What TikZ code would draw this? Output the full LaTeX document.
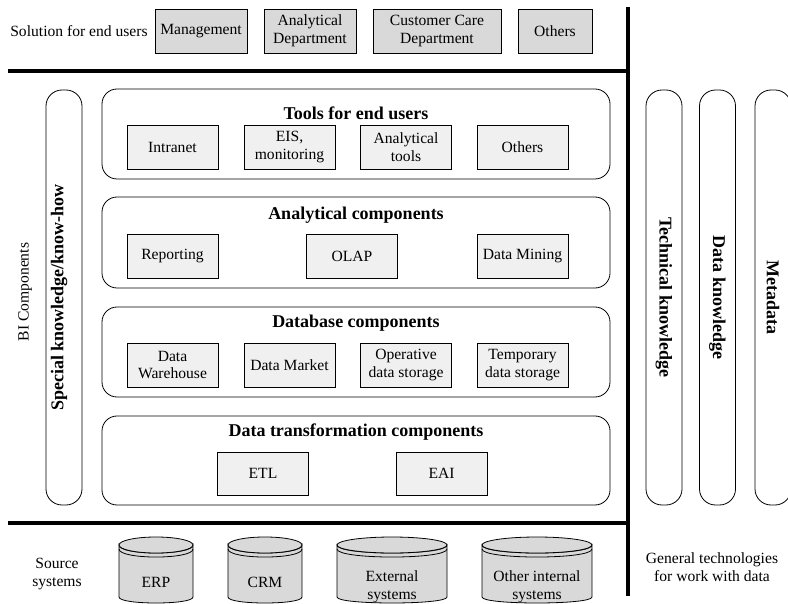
\documentclass[tikz,border=0pt]{standalone}
\usepackage{fontspec}
\setmainfont{Liberation Serif}
\begin{document}
\begin{tikzpicture}[x=1pt,y=-1pt,line width=0.8pt,
  every node/.style={font=\fontsize{15.6}{17.5}\selectfont, align=center, inner sep=2pt},
  topbox/.style={rectangle, draw, fill=gray!30, minimum height=44pt},
  inbox/.style={rectangle, draw, fill=gray!12, minimum width=91pt, minimum height=44pt},
  layer/.style={rectangle, draw, rounded corners=15pt, minimum width=508pt},
  pillar/.style={rectangle, draw, rounded corners=16pt, minimum width=36pt, minimum height=415pt},
  ttl/.style={font=\fontsize{18}{20}\selectfont\bfseries},
  sep/.style={line width=4.5pt},
  cyl/.style={draw, fill=gray!30}]
  \useasboundingbox (0,0) rectangle (788,604);
  \clip (0,0) rectangle (788,604);

  % solutions for end users
  \node (sol) at (79,31) {Solution for end users};
  \node[topbox, minimum width=92pt] (mgmt) at (201,31) {Management};
  \node[topbox, minimum width=92pt] (anadept) at (310,31) {Analytical\\Department};
  \node[topbox, minimum width=128pt] (custcare) at (437,31) {Customer Care\\Department};
  \node[topbox, minimum width=74pt] (endothers) at (555,31) {Others};

  % separators
  \coordinate (sepTL) at (8,71);
  \coordinate (sepBL) at (8,523);
  \coordinate (vtop) at (628,7);
  \coordinate (vbot) at (628,596);
  \draw[sep] (sepTL) -- (sepTL -| vtop);
  \draw[sep] (sepBL) -- (sepBL -| vtop);
  \draw[sep] (vtop) -- (vbot);

  % BI components
  \node[rotate=90] (bi) at (25,292) {BI Components};
  \node[pillar] (know) at (64,297.5) {};
  \node[ttl, rotate=90] (knowttl) at (59,297.5) {Special knowledge/know-how};

  \node[layer, minimum height=90pt] (tools) at (356,134) {};
  \node[ttl] (toolsttl) at (356,113) {Tools for end users};
  \node[inbox] (intranet) at (172.5,147) {Intranet};
  \node[inbox] (eis) at (289.5,147) {EIS,\\monitoring};
  \node[inbox] (antools) at (406,147) {Analytical\\tools};
  \node[inbox] (tothers) at (522.5,147) {Others};

  \node[layer, minimum height=91pt] (analyt) at (356,242.5) {};
  \node[ttl] (analytttl) at (356,215) {Analytical components};
  \node[inbox] (reporting) at (172.5,256) {Reporting};
  \node[inbox] (olap) at (352,256) {OLAP};
  \node[inbox] (mining) at (522.5,256) {Data Mining};

  \node[layer, minimum height=90pt] (dbase) at (356,352) {};
  \node[ttl] (dbasettl) at (356,323) {Database components};
  \node[inbox] (dwh) at (172.5,365) {Data\\Warehouse};
  \node[inbox] (dmarket) at (289.5,365) {Data Market};
  \node[inbox] (ods) at (406,365) {Operative\\data storage};
  \node[inbox] (tds) at (522.5,365) {Temporary\\data storage};

  \node[layer, minimum height=89pt] (transf) at (356,460.5) {};
  \node[ttl] (transfttl) at (356,432) {Data transformation components};
  \node[inbox, minimum height=43pt] (etl) at (263,473.5) {ETL};
  \node[inbox, minimum height=43pt] (eai) at (441.5,473.5) {EAI};

  % general technologies
  \node[pillar] (tech) at (664,297.5) {};
  \node[ttl, rotate=-90] (techttl) at (tech) {Technical knowledge};
  \node[pillar] (dataknow) at (717.5,297.5) {};
  \node[ttl, rotate=-90] (dataknowttl) at (dataknow) {Data knowledge};
  \node[pillar] (meta) at (773,297.5) {};
  \node[ttl, rotate=-90] (metattl) at (meta) {Metadata};
  \node (gentech) at (712,567) {General technologies\\for work with data};

  % source systems
  \node (src) at (57,574) {Source\\systems};
  \foreach \xa/\xb/\ty/\nm/\txt in {119/193/582/erp/ERP, 228/302/582/crm/CRM,
      337/447/587/ext/{External\\systems}, 482/592/587/oth/{Other internal\\systems}} {
    \pgfmathsetmacro\cx{(\xa+\xb)/2}
    \pgfmathsetmacro\rx{(\xb-\xa)/2}
    \draw[cyl] (\xa,545) -- (\xa,597) .. controls (\xa,605) and (\xb,605) .. (\xb,597)
      -- (\xb,545) .. controls (\xb,555.7) and (\xa,555.7) .. cycle;
    \draw[cyl] (\cx,545) ellipse [x radius=\rx, y radius=8];
    \draw (\xa,549) .. controls (\xa,559.7) and (\xb,559.7) .. (\xb,549);
    \node (\nm) at (\cx,\ty) {\txt};
  }
\end{tikzpicture}
\end{document}
